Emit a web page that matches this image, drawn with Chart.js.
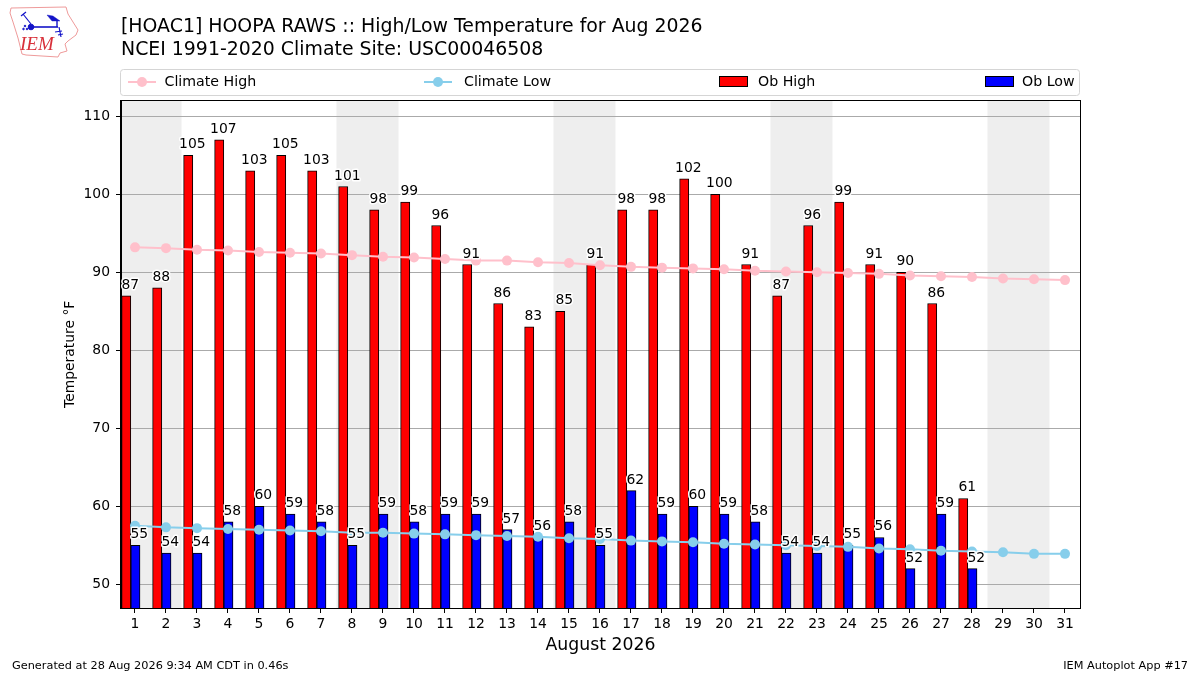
<!DOCTYPE html>
<html>
<head>
<meta charset="utf-8">
<title>HOOPA RAWS High/Low Temperature</title>
<script src="https://cdn.jsdelivr.net/npm/chart.js@4/dist/chart.umd.min.js"></script>
<style>
  html, body { margin: 0; padding: 0; background: #fff; }
  #wrap { position: relative; width: 1200px; height: 675px; overflow: hidden; }
  #logo { position: absolute; left: 5px; top: 3px; }
  canvas { display: block; }
</style>
</head>
<body>
<div id="wrap">
  <canvas id="tempChart" width="1200" height="675"></canvas>
  <svg id="logo" width="80" height="60" viewBox="0 0 80 60">
    <polygon points="6,5 61,4 63,11 68,19 73,27 71,32 63,38 60,41 62,48 55,50 53,54 21,52 17,51 13,35 8,19 5,10"
      fill="#fff" stroke="#ee9a9a" stroke-width="1"/>
    <g stroke="#1414c8" fill="#1414c8">
      <line x1="26" y1="24" x2="53" y2="24" stroke-width="1.6"/>
      <circle cx="26" cy="24" r="2.8"/>
      <line x1="18" y1="11" x2="26" y2="21" stroke-width="1.2"/>
      <line x1="16" y1="13" x2="21" y2="9" stroke-width="1.2"/>
      <polygon points="42,12 48,13 55,18 47,18" stroke-width="0.4"/>
      <line x1="52" y1="18" x2="52" y2="24" stroke-width="1.4"/>
      <line x1="54" y1="24" x2="56" y2="34" stroke-width="1.2"/>
      <line x1="50" y1="29" x2="57" y2="28" stroke-width="1.2"/>
      <line x1="53" y1="32" x2="58" y2="31" stroke-width="1.2"/>
      <circle cx="20" cy="23" r="0.8"/>
      <circle cx="18.5" cy="26" r="0.8"/>
      <circle cx="22" cy="26" r="0.8"/>
    </g>
    <text x="15" y="47" font-family="Liberation Serif" font-style="italic" font-size="19" fill="#d8303a">IEM</text>
  </svg>
</div>
<script>
const days = [1, 2, 3, 4, 5, 6, 7, 8, 9, 10, 11, 12, 13, 14, 15, 16, 17, 18, 19, 20, 21, 22, 23, 24, 25, 26, 27, 28, 29, 30, 31]
const yTicks = [50, 60, 70, 80, 90, 100, 110]

const climateHigh = [93.2, 93.1, 92.9, 92.8, 92.6, 92.5, 92.4, 92.2, 92.0, 91.9, 91.7, 91.5, 91.5, 91.3, 91.2, 90.9, 90.7, 90.6, 90.5, 90.4, 90.2, 90.1, 90.0, 89.9, 89.8, 89.6, 89.5, 89.4, 89.2, 89.1, 89.0]
const climateLow = [57.5, 57.3, 57.2, 57.1, 57.0, 56.9, 56.8, 56.6, 56.6, 56.5, 56.4, 56.3, 56.2, 56.1, 55.9, 55.8, 55.6, 55.5, 55.4, 55.2, 55.1, 55.0, 54.9, 54.8, 54.6, 54.5, 54.3, 54.2, 54.1, 53.9, 53.9]
const obHigh = [87, 88, 105, 107, 103, 105, 103, 101, 98, 99, 96, 91, 86, 83, 85, 91, 98, 98, 102, 100, 91, 87, 96, 99, 91, 90, 86, 61]
const obLow = [55, 54, 54, 58, 60, 59, 58, 55, 59, 58, 59, 59, 57, 56, 58, 55, 62, 59, 60, 59, 58, 54, 54, 55, 56, 52, 59, 52]

// weekends, shaded from the edge of one day to the edge of the next
const weekendStarts = [0.5, 7.5, 14.5, 21.5, 28.5]

const FONT = '"DejaVu Sans"'
const BAR_SHIFT = -0.135

const xy = (values, shift = 0) => values.map((v, i) => ({ x: days[i] + shift, y: v }))

const backdrop = {
  id: 'backdrop',
  beforeDraw(chart) {
    const { ctx, chartArea: a, scales: { x } } = chart
    ctx.save()
    ctx.fillStyle = '#fff'
    ctx.fillRect(0, 0, chart.width, chart.height)
    ctx.fillStyle = '#eeeeee'
    weekendStarts.forEach(s => {
      const left = Math.max(x.getPixelForValue(s), a.left)
      const right = x.getPixelForValue(s + 2)
      ctx.fillRect(left, a.top, right - left, a.bottom - a.top)
    })
    ctx.restore()
  }
}

function drawLabels(chart, values, shift) {
  const { ctx, scales: { x, y } } = chart
  values.forEach((v, i) => {
    const px = x.getPixelForValue(days[i] + shift)
    const py = y.getPixelForValue(v) - 7
    ctx.strokeText(String(v), px, py)
    ctx.fillText(String(v), px, py)
  })
}

const barLabels = {
  id: 'barLabels',
  afterDatasetsDraw(chart) {
    const { ctx } = chart
    ctx.save()
    ctx.font = `13.9px ${FONT}`
    ctx.textAlign = 'center'
    ctx.textBaseline = 'alphabetic'
    ctx.lineJoin = 'round'
    ctx.lineWidth = 3
    ctx.strokeStyle = '#fff'
    ctx.fillStyle = '#000'
    drawLabels(chart, obHigh, -0.15)
    drawLabels(chart, obLow, 0.14)
    ctx.restore()
  }
}

// matplotlib style legend, four entries spread over the axes width
const spreadLegend = {
  id: 'spreadLegend',
  afterDraw(chart) {
    const { ctx } = chart
    const slots = [128, 424, 719, 985]
    const textAt = [164.5, 464, 758, 1022]
    const cy = 82
    ctx.save()
    ctx.beginPath()
    ctx.roundRect(120.5, 69.5, 959, 26, 3)
    ctx.strokeStyle = '#d5d5d5'
    ctx.lineWidth = 1
    ctx.stroke()
    ctx.font = `14.2px ${FONT}`
    ctx.textBaseline = 'middle'
    ctx.textAlign = 'left'
    chart.data.datasets.forEach((ds, i) => {
      const sx = slots[i]
      if (ds.type === 'line') {
        ctx.strokeStyle = ds.borderColor
        ctx.lineWidth = 2
        ctx.beginPath()
        ctx.moveTo(sx, cy)
        ctx.lineTo(sx + 28, cy)
        ctx.stroke()
        ctx.fillStyle = ds.borderColor
        ctx.beginPath()
        ctx.arc(sx + 14, cy, 5, 0, Math.PI * 2)
        ctx.fill()
      } else {
        ctx.fillStyle = ds.backgroundColor
        ctx.strokeStyle = '#000'
        ctx.lineWidth = 1
        ctx.fillRect(sx + 0.5, cy - 5.5, 28, 10)
        ctx.strokeRect(sx + 0.5, cy - 5.5, 28, 10)
      }
      ctx.fillStyle = '#000'
      ctx.fillText(ds.label, textAt[i], cy)
    })
    ctx.restore()
  }
}

const frame = {
  id: 'frame',
  afterDraw(chart) {
    const { ctx, chartArea: a } = chart
    const top = Math.floor(a.top) + 0.5
    const bottom = Math.round(a.bottom) + 0.5
    ctx.save()
    ctx.strokeStyle = '#000'
    ctx.lineWidth = 1
    ctx.strokeRect(a.left - 0.5, top, a.right - a.left + 1, bottom - top)
    ctx.font = `11.3px ${FONT}`
    ctx.fillStyle = '#000'
    ctx.textBaseline = 'alphabetic'
    ctx.textAlign = 'left'
    ctx.fillText('Generated at 28 Aug 2026 9:34 AM CDT in 0.46s', 12, 669)
    ctx.textAlign = 'right'
    ctx.fillText('IEM Autoplot App #17', 1188, 669)
    ctx.restore()
  }
}

new Chart(document.getElementById('tempChart'), {
  type: 'bar',
  plugins: [backdrop, barLabels, spreadLegend, frame],
  data: {
    datasets: [
      {
        type: 'line',
        label: 'Climate High',
        data: xy(climateHigh),
        borderColor: '#ffc0cb',
        backgroundColor: '#ffc0cb',
        borderWidth: 2,
        pointRadius: 5,
        pointBorderWidth: 0,
        pointBackgroundColor: '#ffc0cb',
        tension: 0
      },
      {
        type: 'line',
        label: 'Climate Low',
        data: xy(climateLow),
        borderColor: '#87ceeb',
        backgroundColor: '#87ceeb',
        borderWidth: 2,
        pointRadius: 5,
        pointBorderWidth: 0,
        pointBackgroundColor: '#87ceeb',
        tension: 0
      },
      {
        type: 'bar',
        label: 'Ob High',
        data: xy(obHigh, BAR_SHIFT),
        backgroundColor: '#ff0000',
        borderColor: '#000',
        borderWidth: 1,
        barThickness: 9.2
      },
      {
        type: 'bar',
        label: 'Ob Low',
        data: xy(obLow, BAR_SHIFT),
        backgroundColor: '#0000ff',
        borderColor: '#000',
        borderWidth: 1,
        barThickness: 9.2
      }
    ]
  },
  options: {
    responsive: false,
    animation: false,
    devicePixelRatio: 1,
    layout: { padding: { top: 16, left: 62, right: 120, bottom: 19 } },
    plugins: {
      legend: { display: false },
      tooltip: { enabled: false },
      title: {
        display: true,
        fullSize: false,
        align: 'start',
        color: '#000',
        text: [
          '[HOAC1] HOOPA RAWS :: High/Low Temperature for Aug 2026',
          'NCEI 1991-2020 Climate Site: USC00046508'
        ],
        font: { family: FONT, size: 18.9, weight: 'normal', lineHeight: 1.21 },
        padding: { top: 0, bottom: 38.9 }
      }
    },
    scales: {
      x: {
        type: 'linear',
        offset: false,
        min: 0.5484,
        max: 31.484,
        afterBuildTicks(scale) { scale.ticks = days.map(d => ({ value: d })) },
        afterFit(scale) { scale.height = 48 },
        grid: { offset: false, drawOnChartArea: false, tickColor: '#000', tickLength: 5 },
        border: { color: '#000' },
        ticks: { color: '#000', font: { family: FONT, size: 13.9 }, padding: 3, maxRotation: 0, autoSkip: false, callback: v => String(v) },
        title: { display: true, text: 'August 2026', color: '#000', font: { family: FONT, size: 17.3 }, padding: { top: 4, bottom: 0 } }
      },
      y: {
        min: 46.96,
        max: 112.01,
        afterBuildTicks(scale) { scale.ticks = yTicks.map(v => ({ value: v })) },
        afterFit(scale) { scale.width = 59 },
        grid: { color: '#aaaaaa', lineWidth: 1, tickColor: '#000', tickLength: 5 },
        border: { color: '#000' },
        ticks: { color: '#000', font: { family: FONT, size: 13.9 }, padding: 6, callback: v => String(v) },
        title: { display: true, text: 'Temperature °F', color: '#000', font: { family: FONT, size: 13.9 }, padding: { top: 0, bottom: 0 } }
      }
    }
  }
})
</script>
</body>
</html>
